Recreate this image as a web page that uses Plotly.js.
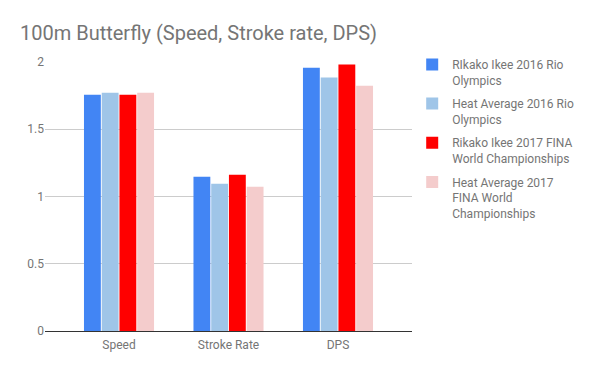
<!DOCTYPE html>
<html>
<head>
<meta charset="utf-8">
<script src="https://cdn.plot.ly/plotly-3.0.1.min.js"></script>
<style>html,body{margin:0;padding:0;background:#fff;}#chart{width:600px;height:371px;}</style>
</head>
<body>
<div id="chart"></div>
<script>
const categories = ["Speed", "Stroke Rate", "DPS"];
const seriesNames = [
  "RIkako Ikee 2016 Rio<br>Olympics",
  "Heat Average 2016 Rio<br>Olympics",
  "Rikako Ikee 2017 FINA<br>World Championships",
  "Heat Average 2017<br>FINA World<br>Championships"
];
const ikee2016 = [1.757, 1.147, 1.958];
const heat2016 = [1.772, 1.094, 1.884];
const ikee2017 = [1.757, 1.162, 1.981];
const heat2017 = [1.772, 1.072, 1.824];
const yTicks = [0, 0.5, 1, 1.5, 2];
const yTickText = ["0", "0.5", "1", "1.5", "2"];

const colors = ["#4285F4", "#9FC5E8", "#FF0000", "#F4CCCC"];
const values = [ikee2016, heat2016, ikee2017, heat2017];

const traces = values.map((v, i) => ({
  type: "bar",
  x: categories,
  y: v,
  name: seriesNames[i],
  legendgroup: "g" + i,
  marker: { color: colors[i] },
  hoverinfo: "x+y+name"
}));

const layout = {
  width: 600,
  height: 371,
  paper_bgcolor: "#fff",
  plot_bgcolor: "#fff",
  font: { family: "Roboto, Arial, sans-serif", color: "#757575", size: 12 },
  title: {
    text: "100m Butterfly (Speed, Stroke rate, DPS)",
    font: { family: "Roboto, Arial, sans-serif", size: 20, color: "#757575" },
    x: 0.0333, xanchor: "left", xref: "container",
    y: 0.892, yanchor: "bottom", yref: "container"
  },
  margin: { l: 45, r: 188, t: 62, b: 40 },
  barmode: "group",
  bargap: 0.352,
  bargroupgap: 0.05,
  xaxis: {
    range: [-0.676, 2.676],
    showgrid: false,
    showline: true,
    linecolor: "#333",
    linewidth: 1,
    ticks: "",
    ticklabelstandoff: 3,
    tickfont: { size: 12, color: "#757575" },
    fixedrange: true
  },
  yaxis: {
    range: [0, 2],
    tickvals: yTicks,
    ticktext: yTickText,
    showgrid: true,
    gridcolor: "#cccccc",
    gridwidth: 1,
    zeroline: false,
    showline: false,
    ticks: "",
    tickfont: { size: 12, color: "#757575" },
    fixedrange: true,
    automargin: false
  },
  legend: {
    xref: "container", yref: "container",
    x: 0.687, y: 0.865, xanchor: "left", yanchor: "top",
    font: { size: 12, color: "#757575" },
    valign: "top",
    tracegroupgap: 5,
    itemwidth: 30,
    bgcolor: "rgba(0,0,0,0)"
  },
  showlegend: true
};

Plotly.newPlot("chart", traces, layout, { displayModeBar: false, staticPlot: true });
</script>
</body>
</html>
